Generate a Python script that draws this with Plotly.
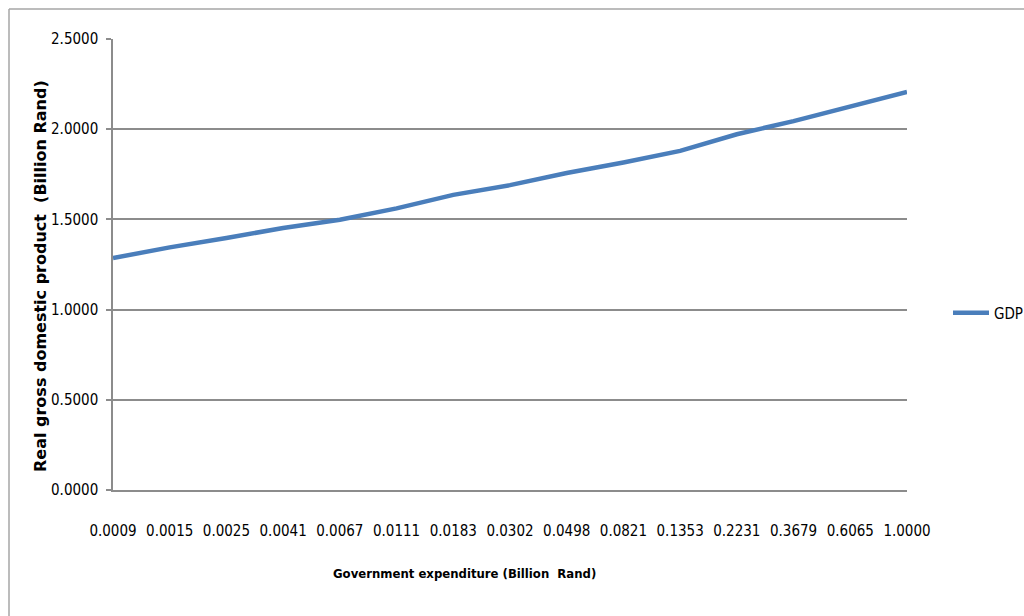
import plotly.graph_objects as go

categories = ["0.0009", "0.0015", "0.0025", "0.0041", "0.0067", "0.0111", "0.0183",
              "0.0302", "0.0498", "0.0821", "0.1353", "0.2231", "0.3679", "0.6065", "1.0000"]
gdp = [1.286, 1.345, 1.397, 1.452, 1.498, 1.561, 1.636, 1.690, 1.757, 1.815,
       1.880, 1.972, 2.045, 2.123, 2.206]
y_ticks = [0, 0.5, 1.0, 1.5, 2.0, 2.5]
y_labels = ["0.0000", "0.5000", "1.0000", "1.5000", "2.0000", "2.5000"]

idx = list(range(len(categories)))
tick_font = dict(family="DejaVu Sans Condensed, Liberation Sans, Arial, sans-serif", size=15, color="#000000")

fig = go.Figure()
fig.add_trace(go.Scatter(
    x=idx, y=gdp, mode="lines", name="GDP",
    line=dict(color="#4A7EBB", width=4.5),
    cliponaxis=False,
))

W, H = 1024, 616
L, R, T, B = 113, 117, 39, 126
pw, ph = W - L - R, H - T - B

def px_x(p):
    return (p - L) / pw

def px_y(p):
    return (H - B - p) / ph

fig.update_layout(
    width=W, height=H,
    margin=dict(l=L, r=R, t=T, b=B, autoexpand=False),
    paper_bgcolor="white", plot_bgcolor="white",
    showlegend=True,
    legend=dict(x=px_x(948), y=px_y(313), xanchor="left", yanchor="middle",
                font=tick_font, bgcolor="rgba(0,0,0,0)", itemwidth=36),
    xaxis=dict(
        range=[0, len(categories) - 1],
        tickvals=idx, ticktext=categories,
        showgrid=False, zeroline=False,
        showline=True, linecolor="#8c8c8c", linewidth=1.5,
        ticks="", tickfont=tick_font, ticklabelstandoff=26,
        tickangle=0,
    ),
    yaxis=dict(
        range=[0, 2.5],
        tickvals=y_ticks, ticktext=y_labels,
        showgrid=True, gridcolor="#8c8c8c", gridwidth=1.5,
        zeroline=False,
        showline=True, linecolor="#8c8c8c", linewidth=1.5,
        ticks="outside", ticklen=5, tickcolor="#8c8c8c", tickwidth=1.5,
        tickfont=tick_font, ticklabelstandoff=5,
    ),
    annotations=[
        dict(text="Real gross domestic product  (Billion Rand)",
             xref="paper", yref="paper", x=px_x(40), y=px_y(276),
             xanchor="center", yanchor="middle", textangle=-90, showarrow=False,
             font=dict(family="DejaVu Sans, Verdana, sans-serif", size=16, color="#000000", weight="bold")),
        dict(text="Government expenditure (Billion  Rand)",
             xref="paper", yref="paper", x=px_x(464), y=px_y(573),
             xanchor="center", yanchor="middle", showarrow=False,
             font=dict(family="DejaVu Sans Condensed, Liberation Sans, sans-serif", size=13, color="#000000", weight="bold")),
    ],
    shapes=[
        dict(type="line", xref="paper", yref="paper", x0=px_x(9), x1=px_x(1030),
             y0=px_y(9), y1=px_y(9), line=dict(color="#a6a6a6", width=1.5)),
        dict(type="line", xref="paper", yref="paper", x0=px_x(9), x1=px_x(9),
             y0=px_y(9), y1=px_y(630), line=dict(color="#a6a6a6", width=1.5)),
    ],
)

fig.write_html("out.html")
